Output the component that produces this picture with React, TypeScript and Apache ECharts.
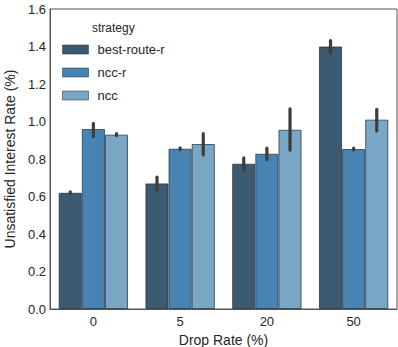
import React, { useEffect, useRef } from "react";
import * as echarts from "echarts";

const categories = ["0", "5", "20", "50"];
const seriesNames = ["best-route-r", "ncc-r", "ncc"];
const bestRouteR = [0.62, 0.67, 0.775, 1.4];
const nccR = [0.96, 0.855, 0.828, 0.853];
const ncc = [0.93, 0.88, 0.956, 1.01];
const bestRouteRLow = [0.615, 0.635, 0.742, 1.366];
const bestRouteRHigh = [0.625, 0.703, 0.806, 1.432];
const nccRLow = [0.92, 0.85, 0.796, 0.848];
const nccRHigh = [0.99, 0.86, 0.858, 0.858];
const nccLow = [0.925, 0.822, 0.847, 0.949];
const nccHigh = [0.935, 0.935, 1.068, 1.065];
const yTicks = [0, 0.2, 0.4, 0.6, 0.8, 1.0, 1.2, 1.4, 1.6];

const colors = ["#3c5a72", "#4884b3", "#7aa7c5"];
const values = [bestRouteR, nccR, ncc];
const lows = [bestRouteRLow, nccRLow, nccLow];
const highs = [bestRouteRHigh, nccRHigh, nccHigh];

export default function App() {
  const ref = useRef<HTMLDivElement>(null);
  useEffect(() => {
    if (!ref.current) return;
    const chart = echarts.init(ref.current, null, { renderer: "svg" });
    const font = "'Liberation Sans', Arial, Helvetica, sans-serif";
    const barSeries = seriesNames.map((name, i) => ({
      name,
      type: "bar",
      data: values[i],
      itemStyle: { color: colors[i], borderColor: "rgba(30,40,50,0.7)", borderWidth: 1 },
      barGap: "0%",
      barCategoryGap: "20%",
      emphasis: { disabled: true },
    }));
    const errSeries = seriesNames.map((name, i) => ({
      type: "custom",
      name: name + "-err",
      data: categories.map((_, k) => [k, lows[i][k], highs[i][k]]),
      z: 10,
      renderItem: (params: any, api: any) => {
        const k = api.value(0);
        const lo = api.coord([k, api.value(1)]);
        const hi = api.coord([k, api.value(2)]);
        const band = api.size([1, 0])[0];
        const bw = (band * 0.8) / 3;
        const x = lo[0] + (i - 1) * bw;
        return {
          type: "line",
          shape: { x1: x, y1: lo[1], x2: x, y2: hi[1] },
          style: { stroke: "#3d3d3d", lineWidth: 3.2, lineCap: "round" },
        };
      },
    }));
    chart.setOption({
      animation: false,
      grid: {
        left: 50,
        right: 1,
        top: 9,
        bottom: 38,
        show: true,
        borderColor: "#555",
        borderWidth: 1,
        outerBoundsMode: "none",
        containLabel: false,
      },
      legend: {
        data: seriesNames,
        orient: "vertical",
        left: 62,
        top: 43,
        padding: 0,
        icon: "rect",
        itemWidth: 26,
        itemHeight: 9,
        itemGap: 10,
        itemStyle: { borderColor: "rgba(30,40,50,0.5)", borderWidth: 1 },
        textStyle: { fontSize: 13, color: "#262626", fontFamily: font, padding: [0, 0, 0, 4] },
      },
      graphic: [
        {
          type: "text",
          left: 92,
          top: 22,
          style: { text: "strategy", fontSize: 12, fill: "#262626", fontFamily: font },
        },
      ],
      xAxis: {
        type: "category",
        data: categories,
        name: "Drop Rate (%)",
        nameLocation: "middle",
        nameGap: 18,
        nameTextStyle: { fontSize: 14, color: "#262626", fontFamily: font },
        axisLine: { show: true, lineStyle: { color: "#555", width: 1 } },
        axisTick: { show: false },
        axisLabel: { fontSize: 13, color: "#262626", fontFamily: font, margin: 6 },
      },
      yAxis: {
        type: "value",
        min: 0,
        max: 1.6,
        interval: 0.2,
        name: "Unsatisfied Interest Rate (%)",
        nameLocation: "middle",
        nameGap: 19,
        nameTextStyle: { fontSize: 14, color: "#262626", fontFamily: font },
        axisLine: { show: true, lineStyle: { color: "#555", width: 1 } },
        axisTick: { show: false },
        splitLine: { show: false },
        axisLabel: {
          fontSize: 13,
          color: "#262626",
          fontFamily: font,
          margin: 4,
          formatter: (v: number) => (yTicks.some((t) => Math.abs(t - v) < 1e-9) ? v.toFixed(1) : ""),
        },
      },
      series: [...barSeries, ...errSeries],
    });
    return () => chart.dispose();
  }, []);
  return (
    <div
      ref={ref}
      style={{ position: "absolute", left: 0, top: 0, width: 398, height: 347, background: "#fff" }}
    />
  );
}
